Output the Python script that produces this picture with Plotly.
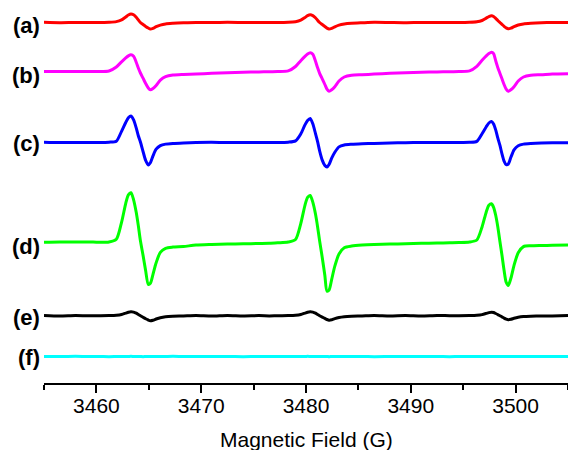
import plotly.graph_objects as go

# Magnetic field (G) sample positions
field = [
    3455.0, 3456.5, 3458.0, 3459.2,
    3460.2, 3461.2, 3461.9, 3462.4, 3462.8, 3463.05, 3463.3, 3463.55, 3463.8, 3464.0, 3464.2,
    3464.45, 3464.7, 3464.95, 3465.15, 3465.4, 3465.7, 3466.1, 3466.6, 3467.3, 3468.3,
    3469.5, 3471.0, 3472.5, 3474.0, 3475.5, 3476.5,
    3477.3, 3478.3, 3479.0, 3479.5, 3479.9, 3480.15, 3480.4, 3480.65, 3480.9, 3481.1, 3481.3,
    3481.55, 3481.8, 3482.0, 3482.2, 3482.45, 3482.75, 3483.15, 3483.65, 3484.35, 3485.35,
    3486.5, 3488.0, 3489.5, 3491.0, 3492.5, 3493.7,
    3494.6, 3495.6, 3496.3, 3496.8, 3497.2, 3497.45, 3497.7, 3497.9, 3498.1, 3498.3, 3498.5,
    3498.7, 3498.9, 3499.1, 3499.3, 3499.55, 3499.85, 3500.25, 3500.75, 3501.45, 3502.45,
    3503.5, 3505.0,
]

# EPR signal (arbitrary units) for each sample
sig_a = [
    0.2, -0.2, 0.1, 0.0,
    0.0, 0.3, 0.9, 2.6, 5.5, 7.5, 8.5, 7.7, 5.3, 2.6, 0.0,
    -2.0, -3.9, -5.5, -6.5, -5.9, -4.2, -2.6, -1.4, -0.8, -0.3,
    0.1, -0.1, 0.2, 0.0, -0.1, 0.1,
    0.0, 0.2, 0.8, 2.3, 5.0, 6.8, 7.7, 6.9, 4.8, 2.3, 0.0,
    -2.0, -4.0, -5.6, -6.6, -5.9, -4.3, -2.6, -1.5, -0.8, -0.3,
    0.2, 0.0, -0.2, 0.1, 0.0, 0.1,
    0.0, 0.2, 0.7, 2.0, 4.4, 5.9, 6.7, 6.0, 4.2, 2.0, 0.0,
    -1.9, -3.8, -5.4, -6.3, -5.7, -4.1, -2.5, -1.4, -0.8, -0.3,
    0.0, 0.1,
]
sig_b = [
    0.1, 0.0, -0.1, 0.1,
    0.0, 0.5, 4.5, 9.7, 13.6, 15.6, 16.7, 15.3, 9.3, 3.5, -1.5,
    -6.7, -12.0, -16.5, -18.3, -17.0, -14.0, -8.7, -5.2, -3.5, -2.9,
    -2.5, -1.8, -1.2, -0.8, -0.4, -0.2,
    0.0, 0.6, 5.0, 10.8, 15.1, 17.4, 18.7, 17.2, 10.5, 3.9, -1.8,
    -7.3, -13.0, -17.7, -19.7, -18.3, -15.2, -9.5, -5.5, -3.7, -3.2,
    -2.6, -1.8, -1.2, -0.8, -0.4, -0.2,
    0.0, 0.6, 5.2, 11.2, 15.6, 17.9, 19.3, 17.8, 10.8, 4.1, -1.7,
    -7.3, -13.0, -17.7, -19.7, -18.3, -15.2, -9.5, -5.5, -3.7, -3.2,
    -2.5, -2.2,
]
sig_c = [
    0.2, -0.1, 0.1, 0.0,
    0.0, 0.3, 1.3, 11.2, 20.0, 24.7, 26.6, 22.6, 14.6, 6.7, 0.5,
    -9.0, -17.9, -22.4, -20.2, -13.4, -6.7, -3.1, -1.6, -0.9, -0.4,
    0.0, 0.2, -0.1, 0.1, 0.0, 0.1,
    0.0, 0.3, 1.6, 8.5, 17.6, 21.9, 24.0, 18.7, 9.1, 1.1, -8.3,
    -17.6, -23.0, -24.5, -22.0, -15.7, -9.8, -4.4, -2.5, -1.8, -1.3,
    -0.9, -0.5, -0.2, 0.0, 0.1, 0.0,
    0.0, 0.2, 1.1, 8.8, 15.8, 19.5, 21.0, 18.5, 12.6, 4.6, -2.7,
    -11.4, -18.6, -22.2, -21.6, -14.8, -7.3, -3.2, -1.6, -0.9, -0.4,
    -0.3, -0.3,
]
sig_d = [
    0.0, 0.3, 0.2, 0.4,
    0.0, 0.3, 3.0, 20.0, 39.0, 47.5, 49.5, 42.5, 30.0, 16.7, 1.5,
    -13.0, -28.5, -42.0, -41.0, -32.0, -20.5, -10.0, -6.0, -4.8, -4.2,
    -2.8, -2.2, -1.8, -1.5, -1.2, -1.0,
    -0.5, 0.3, 2.8, 18.7, 37.0, 44.9, 46.8, 40.2, 28.5, 15.9, 1.4,
    -15.1, -33.2, -48.8, -47.8, -37.1, -23.9, -11.7, -5.5, -3.8, -2.8,
    -2.2, -1.8, -1.4, -1.0, -0.8, -0.5,
    -0.3, 0.2, 2.3, 15.4, 30.4, 37.0, 38.5, 35.0, 27.0, 15.5, 1.0,
    -13.0, -28.0, -40.0, -43.2, -36.0, -23.0, -10.5, -4.3, -3.5, -3.2,
    -3.0, -2.8,
]
sig_e = [
    0.3, -0.3, 0.2, -0.1,
    0.0, 0.1, 0.4, 1.2, 2.6, 3.5, 4.0, 3.6, 2.5, 1.2, 0.0,
    -1.5, -3.0, -4.3, -5.0, -4.5, -3.3, -2.0, -1.1, -0.6, -0.3,
    0.2, -0.3, 0.3, -0.2, 0.1, -0.2,
    0.0, 0.1, 0.4, 1.2, 2.6, 3.5, 4.0, 3.6, 2.5, 1.2, 0.0,
    -1.4, -2.7, -3.8, -4.5, -4.1, -2.9, -1.8, -1.0, -0.5, -0.2,
    0.3, -0.2, 0.2, -0.3, 0.2, 0.0,
    0.0, 0.1, 0.4, 1.1, 2.3, 3.1, 3.5, 3.2, 2.2, 1.1, 0.0,
    -1.2, -2.4, -3.4, -4.0, -3.6, -2.6, -1.6, -0.9, -0.5, -0.2,
    -0.2, 0.1,
]
sig_f = [
    0.1, -0.1, 0.2, 0.0,
    0.1, -0.2, 0.0, 0.1, -0.1, 0.0, 0.2, 0.0, -0.1, 0.1, 0.0,
    -0.2, 0.0, 0.1, -0.1, 0.0, 0.1, -0.1, 0.0, 0.2, 0.0,
    -0.1, 0.1, 0.0, -0.2, 0.0, 0.1,
    0.0, -0.1, 0.1, 0.0, -0.1, 0.2, 0.0, -0.1, 0.0, 0.1, 0.0,
    -0.1, 0.0, 0.1, -0.2, 0.0, 0.1, 0.0, -0.1, 0.0, 0.1,
    -0.2, 0.0, 0.1, -0.1, 0.0, -0.2,
    0.0, 0.1, -0.1, 0.0, 0.1, 0.0, -0.1, 0.0, 0.1, -0.1, 0.0,
    0.1, 0.0, -0.1, 0.0, 0.1, -0.1, 0.0, 0.1, 0.0, -0.1,
    0.0, 0.1,
]

labels = ["(a)", "(b)", "(c)", "(d)", "(e)", "(f)"]
signals = [sig_a, sig_b, sig_c, sig_d, sig_e, sig_f]
offsets = [360.5, 311.5, 240.5, 140.7, 67.3, 26.5]
label_y = [358.0, 307.5, 240.0, 137.0, 65.5, 26.0]
colors = ["#ff0000", "#ff00ff", "#0000ff", "#00ff00", "#000000", "#00ffff"]

fig = go.Figure()
for lab, sig, off, col in zip(labels, signals, offsets, colors):
    fig.add_trace(go.Scatter(
        x=field, y=[off + v for v in sig], mode="lines", name=lab,
        line=dict(color=col, width=3, shape="spline", smoothing=0.7),
        hoverinfo="skip",
    ))

annotations = []
for lab, ly in zip(labels, label_y):
    annotations.append(dict(
        text=lab, xref="paper", x=0, xanchor="right", xshift=-2,
        yref="y", y=ly, yanchor="middle", showarrow=False,
        font=dict(family="Liberation Sans", size=22, color="black", weight="bold"),
    ))
annotations.append(dict(
    text="Magnetic Field (G)", xref="paper", x=0.5, xanchor="center",
    yref="paper", y=-0.148, yanchor="middle", showarrow=False,
    font=dict(family="Liberation Sans", size=21, color="black"),
))

fig.update_layout(
    width=568, height=450,
    margin=dict(l=44, r=0, t=0, b=67),
    paper_bgcolor="white", plot_bgcolor="white",
    showlegend=False,
    annotations=annotations,
    xaxis=dict(
        range=[3455, 3505], showgrid=False, zeroline=False,
        showline=True, linecolor="black", linewidth=2,
        ticks="outside", ticklen=8, tickwidth=2, tickcolor="black",
        tick0=3460, dtick=10, ticklabelstandoff=-5,
        minor=dict(ticks="outside", ticklen=5, tickwidth=2, tickcolor="black", dtick=5, tick0=3455),
        tickfont=dict(family="Liberation Sans", size=21, color="black"),
    ),
    yaxis=dict(range=[0, 383], visible=False),
)

fig.write_html("out.html")
